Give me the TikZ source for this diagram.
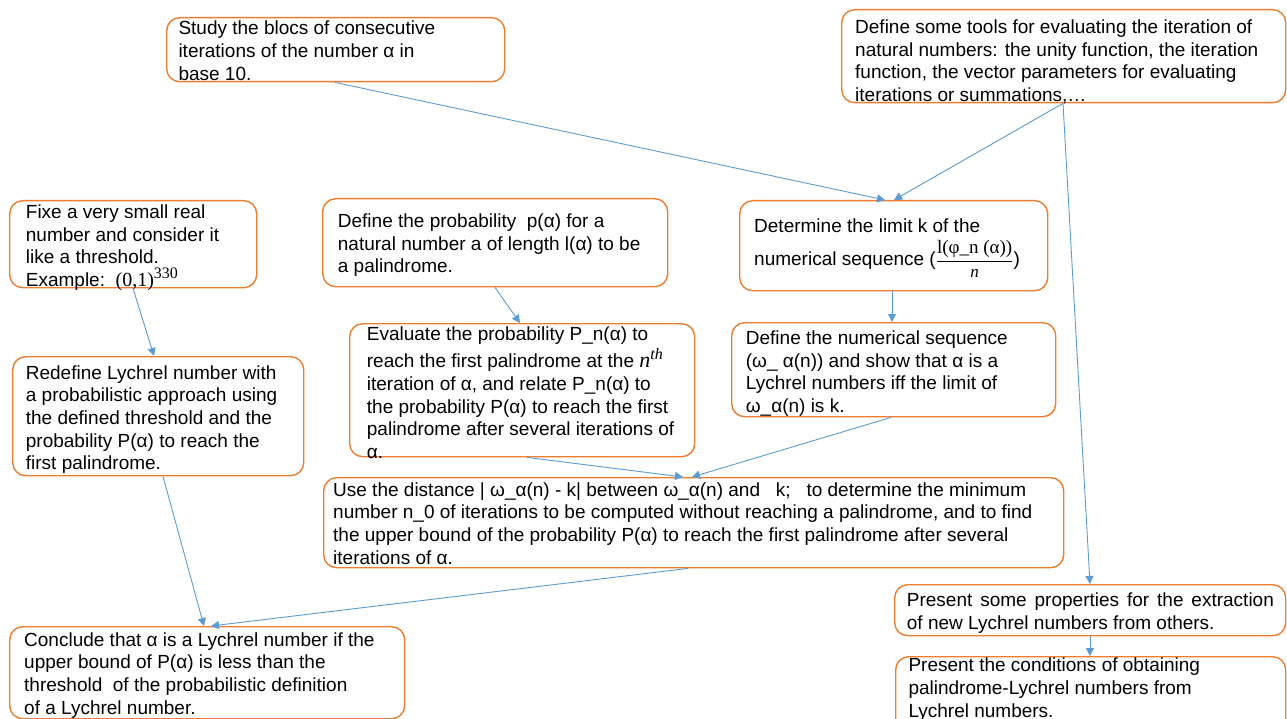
\documentclass[tikz,border=0pt]{standalone}
\usepackage{fontspec}
\setmainfont{Liberation Sans}
\newfontfamily\seriffont{Liberation Serif}
\usetikzlibrary{arrows.meta}
\definecolor{boxorange}{HTML}{ED7D31}
\definecolor{arrowblue}{HTML}{5B9BD5}
\tikzset{
  box/.style={draw=boxorange, line width=1.4pt, rounded corners=13pt, fill=white, inner sep=0pt, anchor=north west},
  txt/.style={inner sep=0pt, anchor=north west, align=left, font=\fontsize{19}{22.7}\selectfont},
  conn/.style={draw=arrowblue, line width=0.9pt, -{Triangle[length=8pt,width=8pt]}}
}
\newcommand\myup[1]{\raisebox{8pt}{\fontsize{16}{16}\selectfont #1}}
\begin{document}
\begin{tikzpicture}[x=1pt,y=-1pt]
\useasboundingbox (0,0) rectangle (1287,719);
% boxes
\node[box, minimum width=338pt, minimum height=64pt] (study) at (166,17) {};
\node[box, minimum width=444pt, minimum height=93pt] (tools) at (841,9) {};
\node[box, minimum width=247pt, minimum height=87pt] (fixe) at (9,200) {};
\node[box, minimum width=345pt, minimum height=88pt] (defprob) at (322,198) {};
\node[box, minimum width=308pt, minimum height=90pt] (determine) at (739,200) {};
\node[box, minimum width=345pt, minimum height=133pt] (evaluate) at (349,323) {};
\node[box, minimum width=324pt, minimum height=94pt] (defnum) at (731,322) {};
\node[box, minimum width=291pt, minimum height=119pt] (redefine) at (12,356) {};
\node[box, minimum width=740pt, minimum height=90pt] (use) at (323,477) {};
\node[box, minimum width=395pt, minimum height=92pt] (conclude) at (9,626) {};
\node[box, minimum width=391pt, minimum height=51pt] (props) at (894,584) {};
\node[box, minimum width=390pt, minimum height=80pt] (cond) at (895,656) {};
% texts
\node[txt] (studyt) at (178.3,18.6) {\strut Study the blocs of consecutive\\ iterations of the number α in\\ base 10.};
\node[txt] (toolst) at (855,17.4) {\strut Define some tools for evaluating the iteration of\\ natural numbers: the unity function, the iteration\\ function, the vector parameters for evaluating\\ iterations or summations,…};
\node[txt] (fixet) at (25.7,202.4) {\strut Fixe a very small real\\ number and consider it\\ like a threshold.\\ Example:\ \ {\seriffont\fontsize{20}{22.7}\selectfont (0,1)\myup{330}}};
\node[txt] (defprobt) at (337.7,211.4) {\strut Define the probability\ \ p(α) for a\\ natural number a of length l(α) to be\\ a palindrome.};
\node[txt] (determinet) at (754,216.8) {\strut Determine the limit k of the\\ numerical sequence ($\displaystyle\frac{\hbox{\seriffont\fontsize{19}{20}\selectfont l(φ\_n (α))}}{\hbox{\seriffont\itshape\fontsize{17}{18}\selectfont n}}$)};
\node[txt] (evaluatet) at (366.7,324.8) {\strut Evaluate the probability P\_n(α) to\\ reach the first palindrome at the {\seriffont\itshape\fontsize{22}{22.7}\selectfont n\myup{th}}\\ iteration of α, and relate P\_n(α) to\\ the probability P(α) to reach the first\\ palindrome after several iterations of\\ α.};
\node[txt] (defnumt) at (745.7,328.4) {\strut Define the numerical sequence\\ (ω\_ α(n)) and show that α is a\\ Lychrel numbers iff the limit of\\ ω\_α(n) is k.};
\node[txt] (redefinet) at (25.7,363.1) {\strut Redefine Lychrel number with\\ a probabilistic approach using\\ the defined threshold and the\\ probability P(α) to reach the\\ first palindrome.};
\node[txt] (uset) at (333,480.1) {\strut Use the distance | ω\_α(n) - k| between ω\_α(n) and\ \ \ k;\ \ \ to determine the minimum\\ number n\_0 of iterations to be computed without reaching a palindrome, and to find\\ the upper bound of the probability P(α) to reach the first palindrome after several\\ iterations of α.};
\node[txt] (concludet) at (24,630.1) {\strut Conclude that α is a Lychrel number if the\\ upper bound of P(α) is less than the\\ threshold\ \ of the probabilistic definition\\ of a Lychrel number.};
\node[txt] (propst) at (906.7,590.8) {\strut\makebox[367pt][s]{Present some properties for the extraction}\\ of new Lychrel numbers from others.};
\node[txt] (condt) at (908.3,655.8) {\strut Present the conditions of obtaining\\ palindrome-Lychrel numbers from\\ Lychrel numbers.};
% connectors
\draw[conn] ([xshift=169pt]study.south west) -- ([xshift=146pt]determine.north west);
\draw[conn] ([xshift=222pt]tools.south west) -- ([xshift=155pt]determine.north west);
\draw[conn] ([xshift=222pt]tools.south west) -- ([xshift=196pt]props.north west);
\draw[conn] ([xshift=124pt]fixe.south west) -- ([xshift=142pt]redefine.north west);
\draw[conn] ([xshift=173pt]defprob.south west) -- ([xshift=171pt]evaluate.north west);
\draw[conn] ([xshift=153pt]determine.south west) -- ([xshift=161pt]defnum.north west);
\draw[conn] ([xshift=178pt]evaluate.south west) -- ([xshift=360pt]use.north west);
\draw[conn] ([xshift=160pt]defnum.south west) -- ([xshift=369pt]use.north west);
\draw[conn] ([xshift=151pt]redefine.south west) -- ([xshift=195pt]conclude.north west);
\draw[conn] ([xshift=365pt]use.south west) -- ([xshift=202pt]conclude.north west);
\draw[conn] ([xshift=196pt]props.south west) -- ([xshift=195pt]cond.north west);
\end{tikzpicture}
\end{document}
